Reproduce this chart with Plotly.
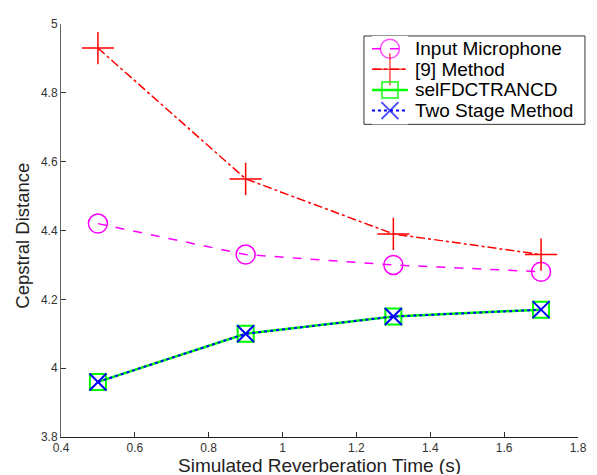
import plotly.graph_objects as go

# ---- data ----
x_vals = [0.5, 0.9, 1.3, 1.7]
input_mic = [4.42, 4.33, 4.30, 4.28]
method9 = [4.93, 4.55, 4.39, 4.33]
selfdct = [3.96, 4.10, 4.15, 4.17]
two_stage = [3.96, 4.10, 4.15, 4.17]
series_names = ["Input Microphone", "[9] Method", "selFDCTRANCD", "Two Stage Method"]
x_ticks = [0.4, 0.6, 0.8, 1.0, 1.2, 1.4, 1.6, 1.8]
x_tick_text = ["0.4", "0.6", "0.8", "1", "1.2", "1.4", "1.6", "1.8"]
y_ticks = [3.8, 4.0, 4.2, 4.4, 4.6, 4.8, 5.0]
y_tick_text = ["3.8", "4", "4.2", "4.4", "4.6", "4.8", "5"]

styles = [
    dict(line=dict(color="#FF00FF", width=1.5, dash="dash"),
         marker=dict(symbol="circle-open", size=19, color="#FF00FF", line=dict(width=1.5, color="#FF00FF"))),
    dict(line=dict(color="#FF0000", width=1.5, dash="dashdot"),
         marker=dict(symbol="cross-thin-open", size=23, color="#FF0000", line=dict(width=1.5, color="#FF0000"))),
    dict(line=dict(color="#00FF00", width=2.5, dash="solid"),
         marker=dict(symbol="square-open", size=16, color="#00FF00", line=dict(width=2, color="#00FF00"))),
    dict(line=dict(color="#0000FF", width=2, dash="dot"),
         marker=dict(symbol="x-thin-open", size=17, color="#0000FF", line=dict(width=2, color="#0000FF"))),
]
all_series = [input_mic, method9, selfdct, two_stage]

fig = go.Figure()
for name, ys, st in zip(series_names, all_series, styles):
    fig.add_trace(go.Scatter(x=x_vals, y=ys, name=name, mode="lines+markers",
                             line=st["line"], marker=st["marker"], showlegend=False))

# ---- manual legend (MATLAB-like tight rows) ----
for i, (name, st) in enumerate(zip(series_names, styles)):
    m = dict(st["marker"])
    m["size"] = [0, st["marker"]["size"], 0]
    fig.add_trace(go.Scatter(x=[0, 0.5, 1], y=[i, i, i], mode="lines+markers",
                             line=st["line"], marker=m, xaxis="x2", yaxis="y2",
                             showlegend=False, hoverinfo="skip"))
    fig.add_annotation(x=0.681, xref="paper", y=i, yref="y2", text=name, showarrow=False,
                       xanchor="left", yanchor="middle",
                       font=dict(family="Liberation Sans, Arial, sans-serif", size=19, color="#000000"))

fig.add_shape(type="rect", xref="paper", yref="paper", x0=0.586, x1=1.0135, y0=0.757, y1=0.971,
              line=dict(color="#333333", width=1), fillcolor="white", layer="below")

axis_font = dict(family="Liberation Sans, Arial, sans-serif", size=12, color="#333333")
fig.update_layout(
    width=589, height=467,
    margin=dict(l=53, r=19, t=9, b=38),
    plot_bgcolor="white", paper_bgcolor="white",
    font=dict(family="Liberation Sans, Arial, sans-serif"),
    xaxis=dict(range=[0.4, 1.8], tickvals=x_ticks, ticktext=x_tick_text,
               showgrid=False, zeroline=False, showline=True, linecolor="#222222", linewidth=1,
               ticks="inside", ticklen=5, tickcolor="#333333", tickfont=axis_font),
    yaxis=dict(range=[3.8, 5.0], tickvals=y_ticks, ticktext=y_tick_text,
               showgrid=False, zeroline=False, showline=True, linecolor="#666666", linewidth=1,
               ticks="inside", ticklen=5, tickcolor="#333333", tickfont=axis_font),
    xaxis2=dict(domain=[0.6015, 0.671], range=[0, 1], visible=False, anchor="y2"),
    yaxis2=dict(domain=[0.757, 0.971], range=[3.667, -0.619], visible=False, anchor="x2"),
    showlegend=False,
)
fig.add_annotation(x=0.5, xref="paper", y=-0.069, yref="paper", text="Simulated Reverberation Time (s)",
                   showarrow=False, xanchor="center", yanchor="middle", height=18, valign="middle",
                   font=dict(size=19, color="#222222"))
fig.add_annotation(x=-0.075, xref="paper", y=0.488, yref="paper", text="Cepstral Distance",
                   showarrow=False, xanchor="center", yanchor="middle", textangle=-90,
                   font=dict(size=18.5, color="#222222"))
fig.write_html("out.html")
